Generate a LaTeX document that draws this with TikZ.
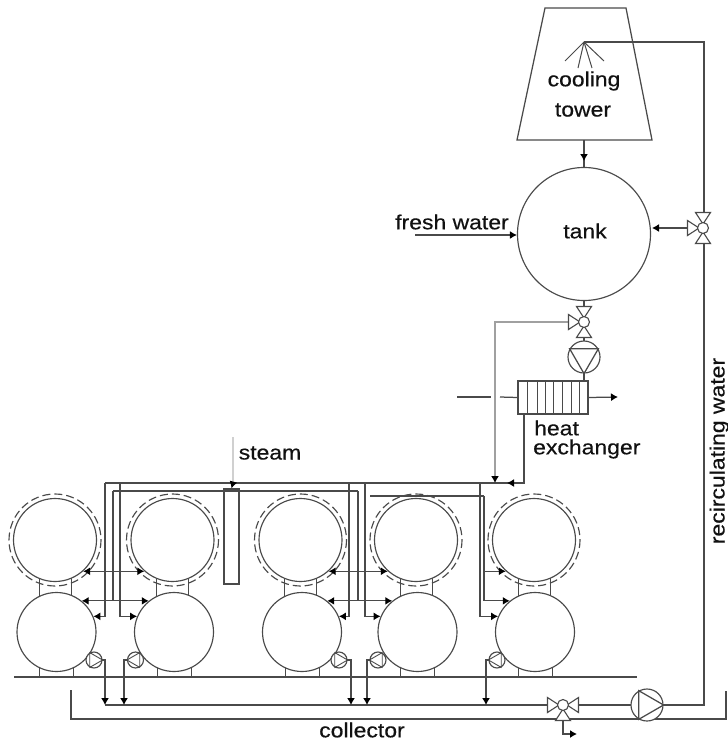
\documentclass[tikz,border=0pt]{standalone}
\usepackage{fontspec}
\newfontfamily\labelfont{Liberation Sans}[FakeStretch=1.12,FakeBold=0.4]
\usetikzlibrary{arrows.meta,calc}
\definecolor{pipeline}{HTML}{4A4A4A}
\definecolor{softline}{HTML}{A0A0A0}
\definecolor{faintline}{HTML}{D0D0D0}
\definecolor{labeltext}{HTML}{111111}
\tikzset{
  pipe/.style={pipeline,line width=1.25pt},
  softpipe/.style={softline,line width=1.25pt},
  tip/.style={-{Latex[length=7pt,width=8pt,black]}},
  bothtip/.style={{Latex[length=7pt,width=8pt,black]}-{Latex[length=7pt,width=8pt,black]}},
  vessel/.style={circle,draw=pipeline,line width=1.15pt,fill=white,inner sep=0pt},
  label/.style={labeltext,font=\labelfont\fontsize{20.5}{22}\selectfont,inner sep=0pt},
  valvehub/.style={circle,draw=pipeline,line width=1.1pt,fill=white,inner sep=0pt,minimum size=11pt},
  pumpbody/.style={circle,draw=pipeline,line width=1.15pt,fill=white,inner sep=0pt}
}
\newcommand{\valvearm}[2]{%
  \begin{scope}[shift={(#1)},rotate=#2]
    \draw[pipe,fill=white,line width=1.1pt] (4,0) -- (15.5,7.5) -- (15.5,-7.5) -- cycle;
  \end{scope}}
\begin{document}
\begin{tikzpicture}[x=1pt,y=-1pt]
    \useasboundingbox (0,0) rectangle (728,742);
    % cooling tower and tank
    \draw[pipe] (545,8) -- (626,8) -- (652,140) -- (517,140) -- cycle;
    \coordinate (towerout) at (584,140);
    \coordinate (nozzle) at (584,42);
    \foreach \e/\f in {565/61,578/68,592/68,604/61} {
      \coordinate (jet) at (\e,\f);
      \draw[pipe,line width=1pt] (nozzle) -- (jet);
    }
    \node[vessel,minimum size=133pt] (tank) at (584,234) {};
    \node[label] (cooling) at (584,81) {cooling};
    \node[label] (towerlabel) at (583,110) {tower};
    \node[label] (tanklabel) at (585,231) {tank};
    \draw[pipe] (towerout) -- (tank.north);
    \coordinate (towermid) at (584,161);
    \draw[pipe,tip] (towerout) -- (towermid);
    \coordinate (freshin) at (415,235);
    \node[label] (fresh) at (452,222) {fresh water};
    \draw[pipe,tip] (freshin) -- (tank.west |- freshin);
    % valve, pump and heat exchanger under the tank
    \coordinate (vmid) at (584,322);
    \coordinate (vright) at (703,228);
    \coordinate (vcol) at (563,705);
    \coordinate (pmid) at (584,357);
    \coordinate (pcol) at (647,705);
    \node[draw=pipeline,line width=1.15pt,fill=white,minimum width=70pt,minimum height=33pt,inner sep=0pt] (hx) at (553,397.5) {};
    \foreach \x in {527,537,545,553,562,571,579} {
      \coordinate (rib) at (\x,381);
      \draw[pipe,line width=1pt] (rib) -- ++(0,33);
    }
    \draw[pipe] (tank.south) -- (vmid);
    \draw[pipe] (vmid) -- (pmid);
    \draw[pipe] (pmid) -- (hx.north -| pmid);
    \coordinate (hxin) at (457,397);
    \coordinate (hxgap) at (491,397);
    \coordinate (hxgapend) at (500,397);
    \coordinate (hxout) at (618,397);
    \draw[pipe] (hxin) -- (hxgap);
    \draw[pipe] (hxgapend) -- (hx.west);
    \draw[pipe,tip] (hx.east) -- (hxout);
    \node[label,anchor=west] (heat) at (534,428) {heat};
    \node[label,anchor=west] (exch) at (533,449) {exchanger};
    % vessels
    \foreach \i/\x in {1/55,2/172.5,3/300.5,4/416,5/534} {
      \draw[pipe,line width=1pt] (\x-16,578) rectangle (\x+16,600);
      \node[vessel,minimum size=83pt] (up\i) at (\x,540) {};
      \draw[pipeline,line width=1.15pt,dash pattern=on 8pt off 4pt] (up\i) circle (46);
    }
    \foreach \i/\x in {1/56.5,2/174,3/302,4/417.5,5/535} {
      \draw[pipe,line width=1pt] (\x-17,660) -- (\x-17,677);
      \draw[pipe,line width=1pt] (\x+17,660) -- (\x+17,677);
      \node[vessel,minimum size=79pt] (low\i) at (\x,632) {};
    }
    \coordinate (floorw) at (14,677);
    \coordinate (floore) at (637,677);
    \draw[pipe] (floorw) -- (floore);
    % steam column and supply lines
    \node[draw=pipeline,line width=1.15pt,fill=white,minimum width=15pt,minimum height=95pt,inner sep=0pt] (column) at (231.5,536.5) {};
    \node[label] (steam) at (270,453) {steam};
    \coordinate (steamin) at (233,437);
    \coordinate (steamend) at (233,483);
    \draw[faintline,line width=1.25pt] (steamin) -- (steamend);
    \coordinate (buswest) at (105,483);
    \coordinate (busturn) at (524,483);
    \coordinate (busmid) at (507,483);
    \draw[pipe] (hx.south -| busturn) -- (busturn) -- (buswest);
    \draw[pipe,tip] (busturn) -- (busmid);
    \draw[pipe,tip] (steamend) -- (column.north);
    \coordinate (vmidleft) at (569,322);
    \coordinate (softturn) at (495,322);
    \coordinate (softend) at (495,483);
    \draw[softpipe,tip] (vmidleft) -- (softturn) -- (softend);
    % branches from the bus to the lower vessels
    \foreach \x/\l/\a in {105/low1/23,120/low2/157,349/low3/23,365/low4/157,480/low5/157} {
      \coordinate (tap) at (\x,483);
      \draw[pipe,tip] (tap) |- (\l.\a);
    }
    % second header
    \coordinate (heada) at (113,491);
    \coordinate (headb) at (358,491);
    \coordinate (headc) at (370,496);
    \coordinate (headd) at (484,496);
    \draw[pipe] (heada) -- (headb);
    \draw[pipe] (headc) -- (headd);
    \foreach \c/\v in {heada/low1,headb/low3,headd/low5} {
      \draw[pipe] (\c) -- (\c |- \v.51);
    }
    \draw[pipe,bothtip] (low1.51) -- (low2.129);
    \draw[pipe,bothtip] (low3.51) -- (low4.129);
    \draw[pipe,tip] (headd |- low5.129) -- (low5.129);
    \draw[pipe,bothtip] (up1.-48) -- (up2.228);
    \draw[pipe,bothtip] (up3.-48) -- (up4.228);
    \draw[pipe,tip] (headd |- up5.228) -- (up5.228);
    % collector
    \coordinate (colwest) at (105,705);
    \coordinate (recturn) at (704,705);
    \coordinate (rectop) at (704,42);
    \coordinate (vcolout) at (563,734);
    \coordinate (vcolend) at (577,734);
    \draw[pipe] (colwest) -- (vcol);
    \draw[pipe] (vcol) -- (pcol);
    \draw[pipe] (pcol) -- (recturn) -- (rectop) -- (nozzle);
    \draw[pipe,tip] (vcol) -- (vcolout) -- (vcolend);
    \coordinate (vrightend) at (652,228);
    \draw[pipe,tip] (vright) -- (vrightend);
    \coordinate (retwest) at (71,690);
    \coordinate (retsw) at (71,719);
    \coordinate (retse) at (726,719);
    \coordinate (reteast) at (726,691);
    \draw[pipe] (retwest) -- (retsw) -- (retse) -- (reteast);
    \node[label] (collector) at (362,730) {collector};
    \node[label,rotate=90,anchor=base] (recirc) at (724.5,451) {recirculating water};
    % small pumps and their drains
    \foreach \i/\x/\d/\a in {1/94/105/0,2/135.5/124/180,3/339/351/0,4/378/367/180,5/497/486/180} {
      \coordinate (drain\i) at (\d,705);
      \coordinate (out\i) at (\d,660);
      \coordinate (pin\i) at (\x,660);
      \draw[pipe,tip] (pin\i) -- (out\i) -- (drain\i);
      \node[pumpbody,minimum size=16pt] (sp\i) at (pin\i) {};
      \pgfmathtruncatemacro{\b}{\a+120}
      \pgfmathtruncatemacro{\c}{\a+240}
      \draw[pipe,line width=0.9pt] (sp\i.\a) -- (sp\i.\b) -- (sp\i.\c) -- cycle;
    }
    % big pumps
    \node[pumpbody,minimum size=32pt] (pumpm) at (pmid) {};
    \draw[pipe] (pumpm.-90) -- (pumpm.30) -- (pumpm.150) -- cycle;
    \node[pumpbody,minimum size=32pt] (pumpc) at (pcol) {};
    \draw[pipe] (pumpc.0) -- (pumpc.120) -- (pumpc.240) -- cycle;
    % three way valves
    \foreach \a in {90,-90,180} {
      \valvearm{vmid}{\a}
      \valvearm{vright}{\a}
    }
    \foreach \a in {0,180,-90} {
      \valvearm{vcol}{\a}
    }
    \node[valvehub] (hubmid) at (vmid) {};
    \node[valvehub] (hubright) at (vright) {};
    \node[valvehub] (hubcol) at (vcol) {};
  \end{tikzpicture}
\end{document}
